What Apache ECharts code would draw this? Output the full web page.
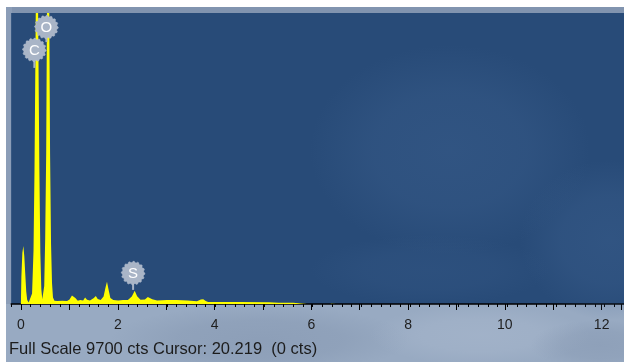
<!DOCTYPE html>
<html>
<head>
<meta charset="utf-8">
<style>
  html, body { margin: 0; padding: 0; background: #ffffff; }
  #chart { width: 624px; height: 362px; }
</style>
<script src="https://cdn.jsdelivr.net/npm/echarts@6/dist/echarts.min.js"></script>
</head>
<body>
<div id="chart"></div>
<script>
// EDS spectrum: energy (keV) vs counts
const fullScaleCts = 9700;
const cursorText = 'Cursor: 20.219  (0 cts)';

const spectrumKeV = [
  0.00, 0.01, 0.03, 0.05, 0.07, 0.09, 0.11, 0.13, 0.16, 0.20,
  0.23, 0.26, 0.28, 0.30, 0.33, 0.36, 0.38, 0.40, 0.42, 0.44,
  0.46, 0.48, 0.50, 0.52, 0.56, 0.60, 0.62, 0.64, 0.66, 0.69,
  0.75, 0.85, 0.95, 1.00, 1.05, 1.08, 1.12, 1.17, 1.22,
  1.28, 1.32, 1.36, 1.42, 1.50, 1.54, 1.58, 1.64, 1.70, 1.74,
  1.77, 1.80, 1.84, 1.90, 2.00, 2.10, 2.20, 2.28, 2.34, 2.39,
  2.46, 2.55, 2.61, 2.65, 2.70, 2.80, 3.00, 3.20, 3.43, 3.46,
  3.62, 3.70, 3.75, 3.80, 3.85, 4.50, 5.10, 5.12, 5.30, 5.32,
  5.37, 5.60, 5.62, 5.88, 5.90, 5.92, 6.36, 6.38, 6.48, 6.50
];
const spectrumCts = [
  0, 900, 1700, 1930, 1600, 1000, 420, 130, 50, 40,
  350, 1800, 4500, 8500, 15000, 8500, 4500, 1700, 500, 160,
  150, 600, 2200, 5000, 17000, 5000, 2000, 700, 220, 110,
  100, 110, 100, 150, 280, 320, 200, 110, 130,
  120, 220, 140, 120, 200, 270, 170, 130, 250, 550,
  740, 500, 200, 130, 120, 130, 130, 250, 440, 260,
  140, 150, 230, 270, 160, 120, 130, 130, 120, 90,
  90, 150, 160, 100, 70, 70, 60, 40, 40, 0,
  40, 40, 0, 0, 40, 0, 0, 40, 40, 0
];

// Identified element lines with their tag positions
const elementLabels = ['C', 'O', 'S'];
const elementKeV = [0.277, 0.525, 2.307];
const tagCts = [8470, 9230, 1030];
const tagStemCts = [7870, 8730, 470];

const tickLabelsKeV = [0, 2, 4, 6, 8, 10, 12];

const spectrum = spectrumKeV.map((e, i) => [e, spectrumCts[i]]);
const tags = elementKeV.map((e, i) => [e, tagCts[i], tagStemCts[i]]);

const pxPerKeV = 49.2;
const zeroX = 21;

// soft radial blotch used for the textured backdrop
function softSpot(cx, cy, rx, ry, rgb, alpha, z) {
  return {
    type: 'circle', z: z, silent: true,
    x: cx, y: cy, scaleX: rx / 100, scaleY: ry / 100,
    shape: { cx: 0, cy: 0, r: 100 },
    style: {
      fill: {
        type: 'radial', x: 0.5, y: 0.5, r: 0.5,
        colorStops: [
          { offset: 0, color: 'rgba(' + rgb + ',' + alpha + ')' },
          { offset: 0.55, color: 'rgba(' + rgb + ',' + (alpha * 0.75) + ')' },
          { offset: 1, color: 'rgba(' + rgb + ',0)' }
        ]
      }
    }
  };
}

const chart = echarts.init(document.getElementById('chart'), null, { renderer: 'canvas' });

const option = {
  animation: false,
  backgroundColor: '#ffffff',
  graphic: [
    // frame / lower panel
    { type: 'rect', z: -10, silent: true, shape: { x: 6, y: 7, width: 620, height: 360 },
      style: { fill: '#98aac2' } },
    { type: 'rect', z: -9, silent: true, shape: { x: 6, y: 7, width: 620, height: 6 },
      style: { fill: '#8194af' } },
    { type: 'rect', z: -9, silent: true, shape: { x: 6, y: 7, width: 6, height: 297 },
      style: { fill: '#8b9db7' } },
    softSpot(260, 340, 150, 35, '120,138,165', 0.35, -8),
    softSpot(480, 335, 110, 30, '178,192,212', 0.35, -8),
    softSpot(600, 345, 70, 25, '120,138,165', 0.3, -8),
    // faint texture inside the plot background
    softSpot(450, 150, 140, 105, '62,98,145', 0.4, 1),
    softSpot(610, 240, 90, 80, '62,98,145', 0.4, 1),
    softSpot(430, 270, 120, 35, '62,98,145', 0.22, 1),
    {
      type: 'text', z: 5, silent: true, left: 9, top: 341,
      style: {
        text: 'Full Scale ' + fullScaleCts + ' cts ' + cursorText,
        fill: '#1c1c1c', font: '16.5px "Liberation Sans", Arial, sans-serif'
      }
    }
  ],
  grid: [
    { left: zeroX - 0.2 * pxPerKeV, top: 13, width: 12.6 * pxPerKeV, bottom: 58,
      show: true, backgroundColor: '#284b78', borderWidth: 0 },
    { left: zeroX, top: 13, width: 12.4 * pxPerKeV, bottom: 58 }
  ],
  xAxis: [
    {
      gridIndex: 0, type: 'value', min: -0.2, max: 12.4, interval: 0.2,
      axisLine: { show: true, onZero: false, lineStyle: { color: '#000000', width: 1.5 } },
      axisTick: { show: true, length: 3, lineStyle: { color: '#000000', width: 1 } },
      axisLabel: { show: false },
      splitLine: { show: false }
    },
    {
      gridIndex: 1, type: 'value', min: 0, max: 12.4, interval: 1,
      axisLine: { show: false, onZero: false },
      axisTick: { show: true, length: 6, lineStyle: { color: '#000000', width: 1 } },
      axisLabel: {
        show: true, margin: 14, fontSize: 14, color: '#1e1e1e',
        fontFamily: '"Liberation Sans", Arial, sans-serif',
        formatter: v => tickLabelsKeV.includes(Math.round(v * 1000) / 1000) ? String(v) : ''
      },
      splitLine: { show: false }
    }
  ],
  yAxis: [
    { gridIndex: 0, type: 'value', min: 0, max: fullScaleCts, show: false },
    { gridIndex: 1, type: 'value', min: 0, max: fullScaleCts, show: false }
  ],
  series: [
    {
      type: 'line', xAxisIndex: 0, yAxisIndex: 0, z: 3,
      data: spectrum, symbol: 'none', clip: true,
      lineStyle: { width: 0 },
      areaStyle: { color: '#ffff00', opacity: 1 },
      silent: true
    },
    {
      type: 'custom', xAxisIndex: 0, yAxisIndex: 0, z: 4,
      data: tags,
      renderItem: function (params, api) {
        const c = api.coord([api.value(0), api.value(1)]);
        const e = api.coord([api.value(0), api.value(2)]);
        const pts = [];
        const n = 64;
        for (let i = 0; i < n; i++) {
          const a = i / n * Math.PI * 2;
          const r = (Math.floor(i / 2) % 2 === 0) ? 11.8 : 10.6;
          pts.push([c[0] + r * Math.cos(a), c[1] + r * Math.sin(a)]);
        }
        return {
          type: 'group',
          children: [
            { type: 'line', shape: { x1: c[0], y1: c[1], x2: e[0], y2: e[1] },
              style: { stroke: '#a7b3c5', lineWidth: 2 } },
            { type: 'polygon', shape: { points: pts },
              style: { fill: '#a9b5c7', stroke: '#b6c1d0', lineWidth: 0.5 } },
            { type: 'text',
              style: {
                text: elementLabels[params.dataIndex], x: c[0], y: c[1] + 0.5,
                align: 'center', verticalAlign: 'middle',
                fill: '#ffffff', font: '15px "Liberation Sans", Arial, sans-serif'
              } }
          ]
        };
      }
    }
  ]
};

chart.setOption(option);
</script>
</body>
</html>
